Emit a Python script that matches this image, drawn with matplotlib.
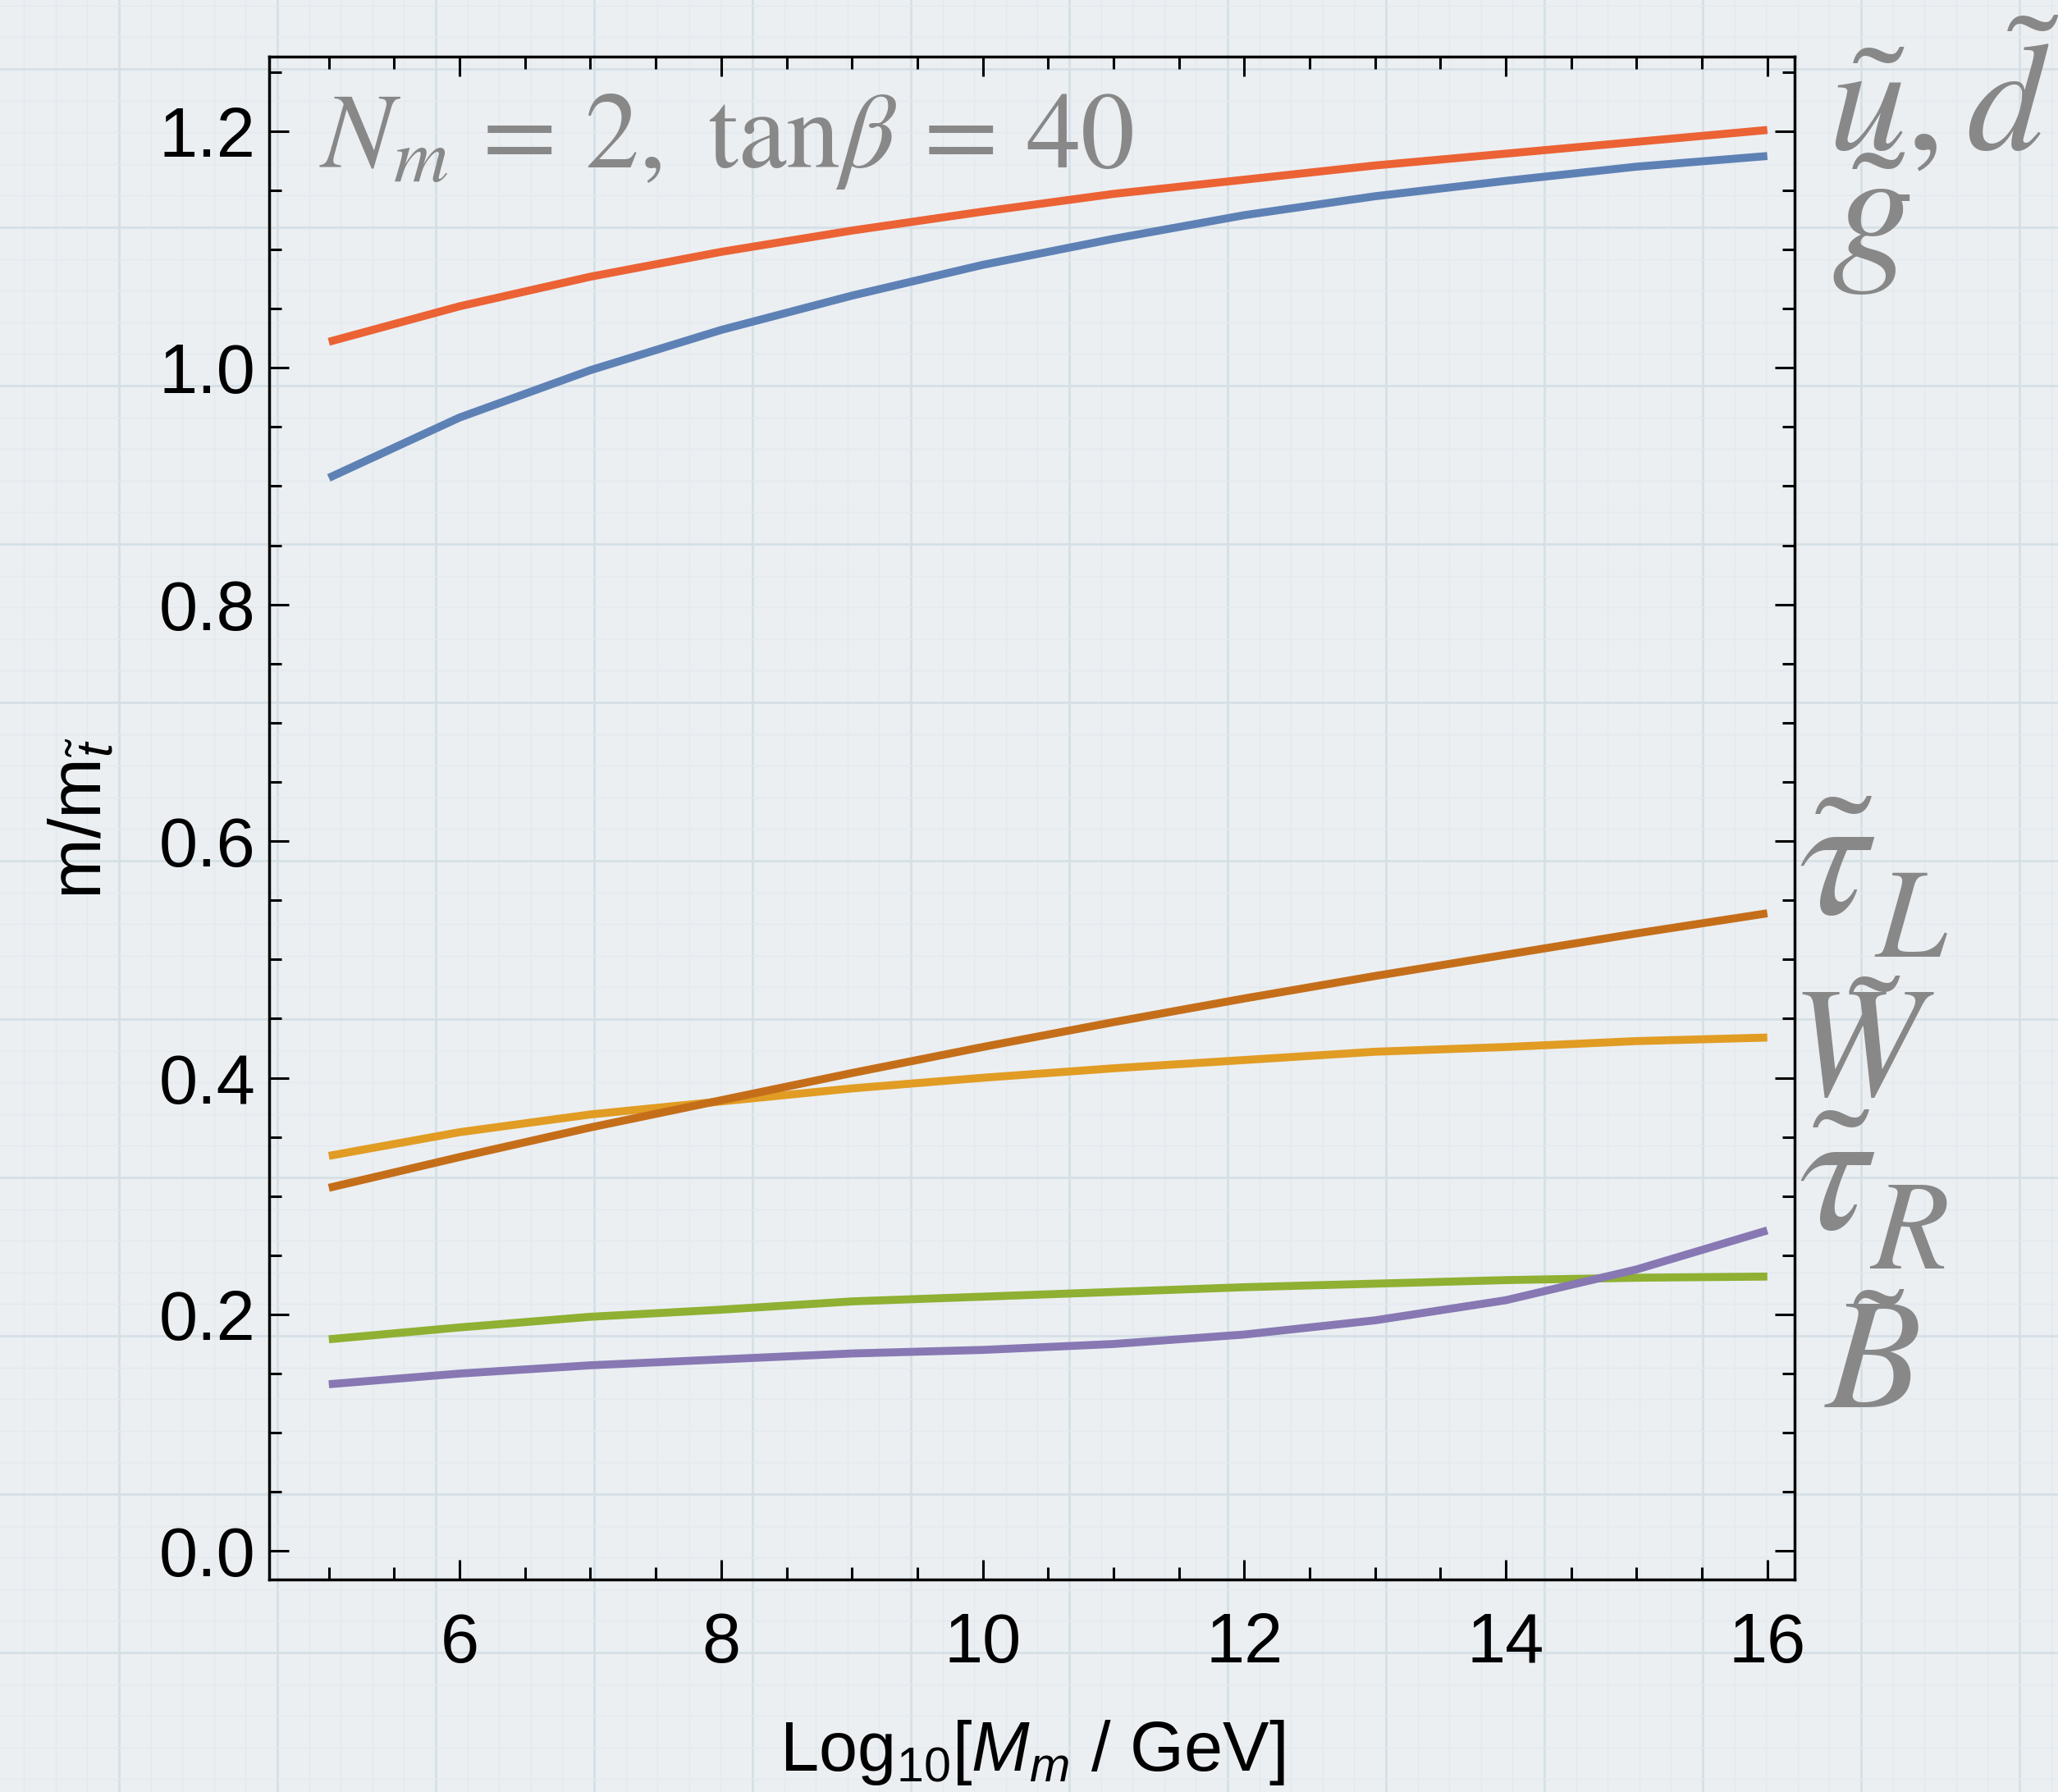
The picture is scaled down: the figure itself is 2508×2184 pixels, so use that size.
import matplotlib
matplotlib.use('Agg')
import matplotlib.pyplot as plt
import numpy as np
from matplotlib.ticker import MultipleLocator

plt.rcParams['font.family'] = ['Liberation Sans', 'DejaVu Sans']
plt.rcParams['mathtext.fontset'] = 'custom'
plt.rcParams['mathtext.rm'] = 'Liberation Sans'
plt.rcParams['mathtext.it'] = 'Liberation Sans:italic'

# log10 of messenger scale
log_m = [5, 6, 7, 8, 9, 10, 11, 12, 13, 14, 15, 16]

# mass ratios m / m_stop
squark = [1.022, 1.052, 1.077, 1.098, 1.116, 1.132, 1.147, 1.159, 1.171, 1.181, 1.191, 1.201]
gluino = [0.907, 0.958, 0.998, 1.032, 1.061, 1.087, 1.109, 1.129, 1.145, 1.158, 1.170, 1.179]
stau_l = [0.307, 0.333, 0.358, 0.381, 0.404, 0.426, 0.447, 0.467, 0.486, 0.504, 0.522, 0.539]
wino = [0.334, 0.354, 0.369, 0.380, 0.391, 0.400, 0.408, 0.415, 0.422, 0.426, 0.431, 0.434]
stau_r = [0.179, 0.189, 0.198, 0.204, 0.211, 0.215, 0.219, 0.223, 0.226, 0.229, 0.231, 0.232]
bino = [0.141, 0.150, 0.157, 0.162, 0.167, 0.170, 0.175, 0.183, 0.195, 0.212, 0.238, 0.271]

fig = plt.figure(figsize=(25.08, 21.84), dpi=100)

# graph-paper background
bg = fig.add_axes([0, 0, 1, 1], zorder=0)
bg.set_facecolor('#ebeff2')
bg.xaxis.set_major_locator(MultipleLocator(193))
bg.yaxis.set_major_locator(MultipleLocator(193))
bg.xaxis.set_minor_locator(MultipleLocator(193 / 5))
bg.yaxis.set_minor_locator(MultipleLocator(193 / 5))
bg.set_xlim(-145, 2508 - 145)
bg.set_ylim(2184 - 84, -84)
bg.grid(which='major', color='#d5e0e6', lw=2.0)
bg.grid(which='minor', color='#e3e9ed', lw=1.0)
bg.tick_params(which='both', length=0, labelbottom=False, labelleft=False)
for s in bg.spines.values():
    s.set_visible(False)

ax = fig.add_axes([0.1308, 0.1186, 0.7413, 0.8498], zorder=1)
ax.patch.set_alpha(0)

lw = 7
ax.plot(log_m, gluino, color='#5e81b5', lw=lw, solid_capstyle='butt')
ax.plot(log_m, wino, color='#e19c24', lw=lw, solid_capstyle='butt')
ax.plot(log_m, stau_r, color='#8fb032', lw=lw, solid_capstyle='butt')
ax.plot(log_m, squark, color='#eb6235', lw=lw, solid_capstyle='butt')
ax.plot(log_m, bino, color='#8778b3', lw=lw, solid_capstyle='butt')
ax.plot(log_m, stau_l, color='#c56e1a', lw=lw, solid_capstyle='butt')

ax.set_xlim(4.544, 16.21)
ax.set_ylim(-0.024, 1.263)
ax.xaxis.set_major_locator(MultipleLocator(2))
ax.xaxis.set_minor_locator(MultipleLocator(0.5))
ax.yaxis.set_major_locator(MultipleLocator(0.2))
ax.yaxis.set_minor_locator(MultipleLocator(0.05))
ax.yaxis.set_major_formatter(matplotlib.ticker.FormatStrFormatter('%.1f'))
ax.tick_params(which='both', direction='in', top=True, right=True, width=2.2, color='black')
ax.tick_params(which='major', length=17)
ax.tick_params(which='minor', length=10.5)
ax.tick_params(axis='x', labelsize=61, pad=28)
ax.tick_params(axis='y', labelsize=61, pad=12)
for s in ax.spines.values():
    s.set_linewidth(2.5)

ax.set_xlabel(r'Log$_{10}$[$M_m$ / GeV]', fontsize=61)
ax.xaxis.set_label_coords(0.5, -0.091)
ax.set_ylabel(r'm/m$_{\tilde{t}}$', fontsize=64)
ax.yaxis.set_label_coords(-0.1, 0.5)

gray = '#888888'
ax.text(0.033, 0.927, r'$N_m\, =\, 2,\ \mathrm{tan}\beta\, =\, 40$', transform=ax.transAxes,
        fontsize=95, color=gray, math_fontfamily='stix', va='baseline', ha='left')

# particle labels to the right of the frame: (x, y, text, size)
particle_labels = [
    (1.022, 0.939, r'$u,d$', 136),
    (1.024, 0.866, r'$g$', 144),
    (1.002, 0.437, r'$\tau$', 156),
    (1.052, 0.409, r'$L$', 112),
    (0.997, 0.318, r'$W$', 138),
    (1.002, 0.230, r'$\tau$', 156),
    (1.049, 0.204, r'$R$', 112),
    (1.019, 0.113, r'$B$', 138),
]
for lx, ly, lab, size in particle_labels:
    ax.text(lx, ly, lab, transform=ax.transAxes, fontsize=size, color=gray,
            math_fontfamily='stix', va='baseline', ha='left', clip_on=False)

# tilde accents placed over each symbol: (x centre, y centre, size)
tildes = [(1.055, 0.969, 136), (1.156, 0.990, 136), (1.055, 0.899, 140),
          (1.032, 0.473, 150), (1.052, 0.359, 136), (1.030, 0.267, 150),
          (1.055, 0.153, 136)]
for tx, ty, size in tildes:
    ax.text(tx, ty, '$\u02dc$', transform=ax.transAxes, fontsize=size, color=gray,
            math_fontfamily='stix', va='center', ha='center', clip_on=False)

fig.savefig('out.png', dpi=100)
